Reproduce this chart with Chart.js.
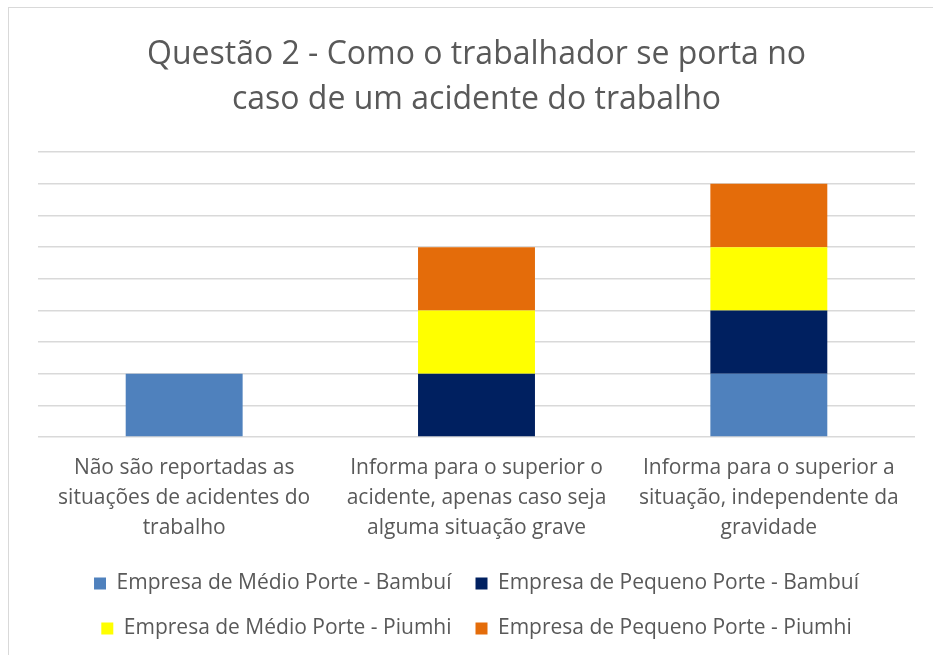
<!DOCTYPE html>
<html>
<head>
<meta charset="utf-8">
<script src="https://cdn.jsdelivr.net/npm/chart.js@4"></script>
<style>
  body { margin: 0; background: #fff; }
  #frame { position: absolute; left: 8px; top: 7px; width: 940px; height: 660px; border: 1px solid #d9d9d9; }
  #wrap { position: absolute; left: 0; top: 0; width: 933px; height: 655px; }
</style>
</head>
<body>
<div id="frame"></div>
<div id="wrap"><canvas id="chart"></canvas></div>
<script>
const categories = [
  ["Não são reportadas as", "situações de acidentes do", "trabalho"],
  ["Informa para o superior o", "acidente, apenas caso seja", "alguma situação grave"],
  ["Informa para o superior a", "situação, independente da", "gravidade"],
];
const seriesNames = [
  "Empresa de Médio Porte - Bambuí",
  "Empresa de Pequeno Porte - Bambuí",
  "Empresa de Médio Porte - Piumhi",
  "Empresa de Pequeno Porte - Piumhi",
];
const medioBambui = [1, 0, 1];
const pequenoBambui = [0, 1, 1];
const medioPiumhi = [0, 1, 1];
const pequenoPiumhi = [0, 1, 1];
const colors = ["#4F81BD", "#002060", "#FFFF00", "#E46C0A"];

const textColor = "#595959";
const fontFamily = "'Open Sans', sans-serif";

const ctx = document.getElementById("chart").getContext("2d");
new Chart(ctx, {
  type: "bar",
  data: {
    labels: categories,
    datasets: [medioBambui, pequenoBambui, medioPiumhi, pequenoPiumhi].map((vals, i) => ({
      label: seriesNames[i],
      data: vals,
      backgroundColor: colors[i],
      borderWidth: 0,
      categoryPercentage: 1,
      barPercentage: 0.4,
    })),
  },
  options: {
    responsive: true,
    maintainAspectRatio: false,
    animation: false,
    layout: { padding: { left: 38, right: 18, top: 0, bottom: 6 } },
    scales: {
      x: {
        stacked: true,
        grid: { display: false, drawTicks: false },
        border: { display: false },
        ticks: {
          color: textColor,
          font: { family: fontFamily, size: 21, lineHeight: 1.43 },
          padding: 16,
          maxRotation: 0,
          autoSkip: false,
        },
        afterFit: function (scale) {
          scale.height -= 10;
        },
      },
      y: {
        stacked: true,
        min: 0,
        max: 4.5,
        ticks: { display: false, stepSize: 0.5 },
        grid: { color: "#d9d9d9", lineWidth: 1.5, drawTicks: false },
        border: { display: false },
      },
    },
    plugins: {
      title: {
        display: true,
        text: ["Questão 2 - Como o trabalhador se porta no", "caso de um acidente do trabalho"],
        color: textColor,
        font: { family: fontFamily, size: 32, weight: "normal", lineHeight: 1.41 },
        padding: { top: 32, bottom: 30 },
      },
      legend: {
        position: "bottom",
        labels: {
          color: textColor,
          font: { family: fontFamily, size: 21 },
          boxWidth: 12,
          boxHeight: 12,
          padding: 24,
        },
      },
      tooltip: { enabled: false },
    },
  },
});
</script>
</body>
</html>
